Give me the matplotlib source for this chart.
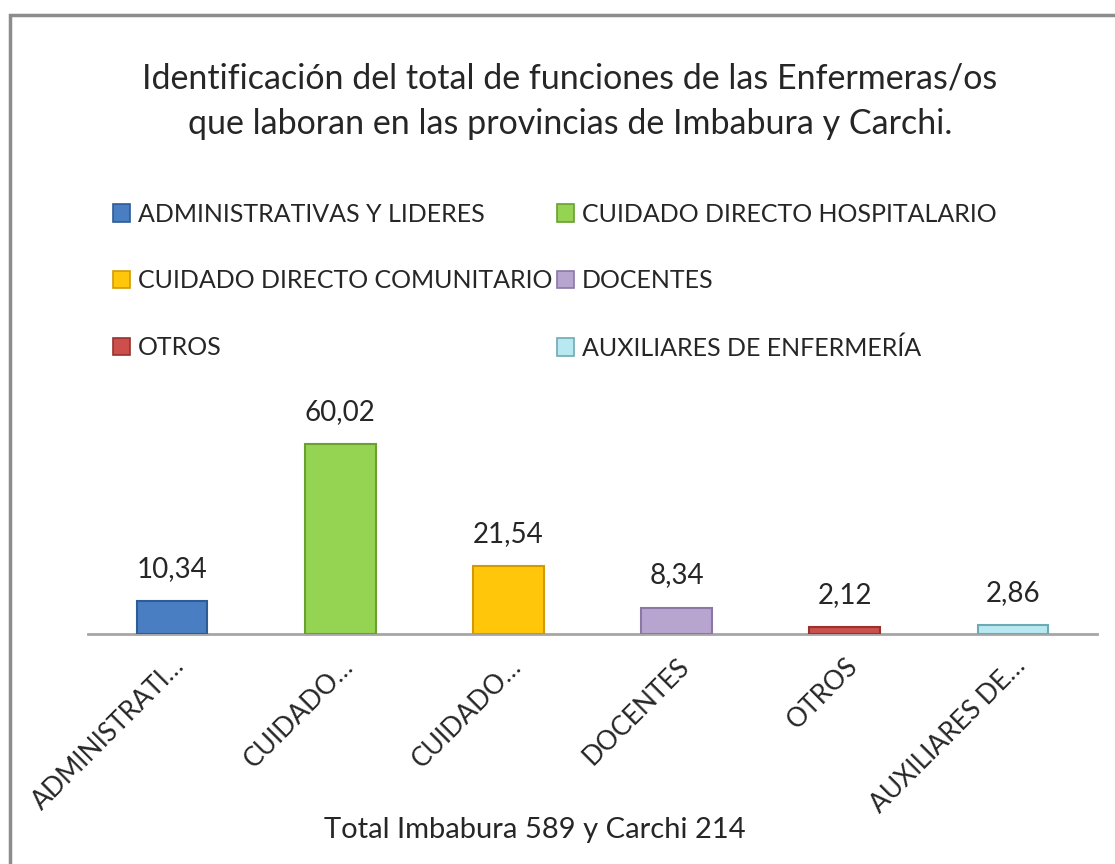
import matplotlib
matplotlib.use("Agg")
import matplotlib.pyplot as plt
from matplotlib.patches import Rectangle, Patch

plt.rcParams['font.family'] = ['Lato', 'DejaVu Sans']

# data
categorias = ["ADMINISTRATIVAS Y LIDERES", "CUIDADO DIRECTO HOSPITALARIO",
              "CUIDADO DIRECTO COMUNITARIO", "DOCENTES", "OTROS",
              "AUXILIARES DE ENFERMERÍA"]
etiquetas = ["ADMINISTRATI…", "CUIDADO…", "CUIDADO…", "DOCENTES", "OTROS",
             "AUXILIARES DE…"]
valores = [10.34, 60.02, 21.54, 8.34, 2.12, 2.86]
colores = ["#4A7EC2", "#94D452", "#FFC60A", "#B7A4CF", "#CC4F4C", "#B8E9F1"]
bordes = ["#2D5C96", "#6AA030", "#D39A00", "#8B77A6", "#963230", "#6FA9B6"]

W, H = 1115, 864
fig = plt.figure(figsize=(W / 100, H / 100), dpi=100)

# chart frame (cut off at right/bottom like the screenshot)
fig.patches.append(Rectangle((10 / W, -0.1), 1.2, (H - 15) / H + 0.1,
                             transform=fig.transFigure, fill=False,
                             edgecolor="#8c8c8c", linewidth=2.5))

ax = fig.add_axes([88 / W, (H - 634) / H, (1097 - 88) / W, 222 / H])
x = range(len(valores))
ax.bar(x, valores, width=0.42, color=colores, edgecolor=bordes,
       linewidth=1.5, zorder=3)
for xi, v in zip(x, valores):
    ax.text(xi, v + 6, f"{v:.2f}".replace(".", ","), ha="center",
            va="bottom", fontsize=20, color="#262626")

ax.set_xlim(-0.5, len(valores) - 0.5)
ax.set_ylim(0, 70)
for s in ["top", "right", "left"]:
    ax.spines[s].set_visible(False)
ax.spines["bottom"].set_color("#a6a6a6")
ax.spines["bottom"].set_linewidth(2)
ax.set_yticks([])
ax.set_xticks(list(x))
ax.set_xticklabels(etiquetas, rotation=45, ha="right", rotation_mode="anchor",
                   fontsize=19, color="#262626")
ax.tick_params(axis="x", length=0, pad=14)

fig.text(570 / W, 1 - 101 / H,
         "Identificación del total de funciones de las Enfermeras/os\n"
         "que laboran en las provincias de Imbabura y Carchi.",
         ha="center", va="center", fontsize=24.5, color="#262626",
         linespacing=1.5)

fig.text(535 / W, 1 - 830 / H, "Total Imbabura 589 y Carchi 214",
         ha="center", va="center", fontsize=21, color="#262626")

# legend fills column by column: reorder so rows read left to right
orden = [0, 2, 4, 1, 3, 5]
handles = [Patch(facecolor=colores[i], edgecolor=bordes[i], linewidth=1.2)
           for i in orden]
fig.legend(handles, [categorias[i] for i in orden], loc="upper left",
           ncol=2, frameon=False, bbox_to_anchor=(90 / W, 1 - 180 / H),
           fontsize=18, handlelength=0.7, handleheight=0.7,
           handletextpad=0.3, columnspacing=0.2, labelspacing=1.75,
           labelcolor="#262626")

fig.savefig("out.png", dpi=100)
